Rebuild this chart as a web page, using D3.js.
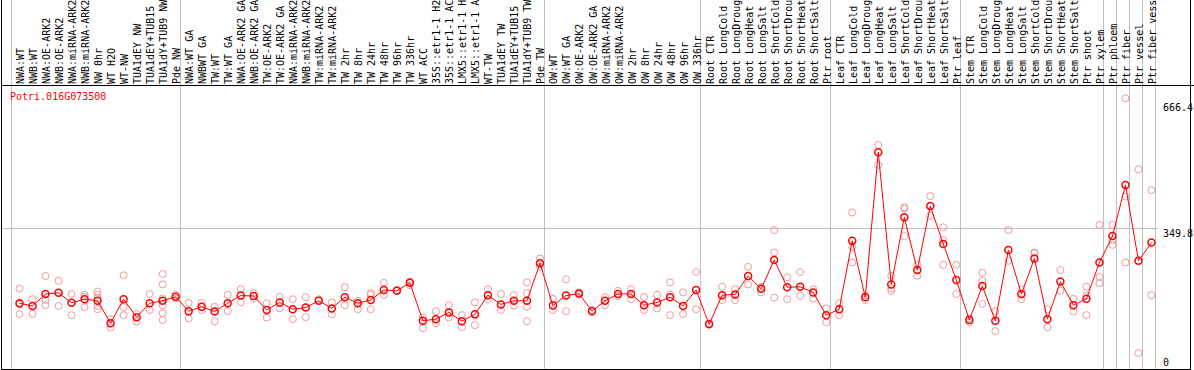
<!DOCTYPE html>
<html lang="en">
<head>
<meta charset="UTF-8">
<title>Potri.016G073500</title>
<style>
  body { margin: 0; background: #fff; }
  svg { display: block; }
  text { font-family: "DejaVu Sans Mono", monospace; font-size: 10px; }
</style>
</head>
<body>
<div id="chart"></div>
<script src="https://d3js.org/d3.v7.min.js"></script>
<script>
const title = "Potri.016G073500";

const labels = [
  "NWA:WT", "NWB:WT", "NWA:OE-ARK2", "NWB:OE-ARK2", "NWA:miRNA-ARK2", "NWB:miRNA-ARK2",
  "NW 0hr", "WT H2O", "WT-NW", "TUA1dEY NW", "TUA1dEY+TUB15 NW", "TUA1dY+TUB9 NW", "Pde NW",
  "NWA:WT GA", "NWBWT GA", "TW:WT", "TW:WT GA", "NWA:OE-ARK2 GA", "NWB:OE-ARK2 GA",
  "TW:OE-ARK2", "TW:OE-ARK2 GA", "NWA:miRNA-ARK2 GA", "NWB:miRNA-ARK2 GA", "TW:miRNA-ARK2",
  "TW:miRNA-ARK2 GA", "TW 2hr", "TW 8hr", "TW 24hr", "TW 48hr", "TW 96hr", "TW 336hr",
  "WT ACC", "35S::etr1-1 H2O", "35S::etr1-1 ACC", "LMX5::etr1-1 H2O", "LMX5::etr1-1 ACC",
  "WT-TW", "TUA1dEY TW", "TUA1dEY+TUB15 TW", "TUA1dY+TUB9 TW", "Pde TW",
  "OW:WT", "OW:WT GA", "OW:OE-ARK2", "OW:OE-ARK2 GA", "OW:miRNA-ARK2", "OW:miRNA-ARK2 GA",
  "OW 2hr", "OW 8hr", "OW 24hr", "OW 48hr", "OW 96hr", "OW 336hr",
  "Root CTR", "Root LongCold", "Root LongDrought", "Root LongHeat", "Root LongSalt",
  "Root ShortCold", "Root ShortDrought", "Root ShortHeat", "Root ShortSalt", "Ptr root",
  "Leaf CTR", "Leaf LongCold", "Leaf LongDrought", "Leaf LongHeat", "Leaf LongSalt",
  "Leaf ShortCold", "Leaf ShortDrought", "Leaf ShortHeat", "Leaf ShortSalt", "Ptr leaf",
  "Stem CTR", "Stem LongCold", "Stem LongDrought", "Stem LongHeat", "Stem LongSalt",
  "Stem ShortCold", "Stem ShortDrought", "Stem ShortHeat", "Stem ShortSalt", "Ptr shoot",
  "Ptr xylem", "Ptr phloem", "Ptr fiber", "Ptr vessel", "Ptr fiber vessel"
];

// number of samples in each block (gray separators between blocks)
const groupSizes = [13, 28, 12, 10, 10, 11, 1, 1, 1, 1];

const means = [
  163, 156, 186, 189, 164, 173, 169, 113, 173, 128, 163, 169, 179,
  143, 154, 142, 163, 182, 181, 146, 165, 148, 152, 169, 150, 178, 163, 171, 196, 194, 214,
  119, 123, 140, 118, 135, 183, 160, 169, 169, 263,
  157, 182, 187, 143, 169, 186, 186, 158, 165, 178, 156, 196,
  110, 183, 185, 231, 199, 271, 203, 204, 190, 133,
  148, 319, 178, 541, 210, 378, 246, 406, 311, 221,
  121, 206, 119, 296, 186, 275, 123, 217, 158, 174, 265,
  331, 459, 269, 315
];

const reps = [
  [200, 160, 136], [173, 136], [231, 171, 158], [219, 156], [186, 133], [184, 179, 153],
  [192, 184, 175, 156, 148], [123, 102], [233, 153, 133], [136, 117], [186, 146],
  [236, 210, 175, 158, 138, 121], [184, 175],
  [164, 125], [164, 146], [154, 118], [184, 143], [198, 165], [188, 175], [163, 127],
  [179, 150], [173, 123], [178, 128], [173], [165, 135], [203, 158], [169, 148],
  [188, 184, 148], [214, 184], [196], [217, 208], [128, 100], [143, 113], [158, 127],
  [133, 103], [165, 108], [198, 173], [186, 146], [183, 157], [215, 188, 154, 118], [275, 254],
  [174, 146], [223, 143], [190, 185], [146], [178, 158], [194, 181], [198, 173], [178, 146],
  [184, 150], [215, 185, 133], [190, 136], [241, 148],
  [113], [204, 171], [198, 171], [254, 210], [204, 190], [346, 290, 177], [228, 173],
  [241, 181], [198, 175], [150, 115],
  [163, 133], [390, 304, 265], [182, 171], [559, 509], [232, 200, 194], [403, 400, 331],
  [259, 232], [431, 382], [353, 321, 259], [259, 186],
  [125, 115], [239, 219, 161], [143, 93], [346, 269], [198, 173], [290, 288], [148, 103],
  [246, 194], [174, 142], [204, 182, 133], [359, 229, 213],
  [359, 321, 309], [676, 430, 265], [498, 38], [446, 183]
];

const yTicks = [0, 349.8, 666.4];

const width = 1194, height = 370;
const headerBottom = 85, plotBottom = 369, rightEdge = 1190;

const svg = d3.select("#chart").append("svg")
  .attr("width", width)
  .attr("height", height);

const x = d3.scaleBand()
  .domain(d3.range(labels.length))
  .range([10.5, 1155.5]);
const px = i => x(i) + 9;

const y = d3.scaleLinear()
  .domain([0, 666.4])
  .range([368.3, 102.1]);

const crisp = v => Math.round(v) + 0.5;

// block separators
const bounds = [0].concat(Array.from(d3.cumsum(groupSizes)));
svg.append("g").selectAll("line")
  .data(bounds)
  .enter().append("line")
  .attr("x1", d => crisp(d < labels.length ? x(d) : x.range()[1] - 1))
  .attr("x2", d => crisp(d < labels.length ? x(d) : x.range()[1] - 1))
  .attr("y1", 0)
  .attr("y2", plotBottom)
  .attr("stroke", "#c0c0c0");

// horizontal grid line at the middle tick
svg.append("line")
  .attr("x1", 1).attr("x2", 1158)
  .attr("y1", crisp(y(349.8) - 0.5)).attr("y2", crisp(y(349.8) - 0.5))
  .attr("stroke", "#c0c0c0");

// frame
svg.append("line").attr("x1", 1.5).attr("x2", 1.5).attr("y1", 0).attr("y2", plotBottom + 1).attr("stroke", "#000");
svg.append("line").attr("x1", rightEdge + 0.5).attr("x2", rightEdge + 0.5).attr("y1", 0).attr("y2", plotBottom + 1).attr("stroke", "#000");
svg.append("line").attr("x1", 1).attr("x2", width).attr("y1", headerBottom + 0.5).attr("y2", headerBottom + 0.5).attr("stroke", "#000");
svg.append("line").attr("x1", 1).attr("x2", rightEdge + 1).attr("y1", plotBottom + 0.5).attr("y2", plotBottom + 0.5).attr("stroke", "#000");

// sample labels
svg.append("g").selectAll("text")
  .data(labels)
  .enter().append("text")
  .attr("transform", (d, i) => `translate(${px(i) + 4.5},84) rotate(-90)`)
  .attr("fill", "#000")
  .text(d => d);

// title
svg.append("text")
  .attr("x", 10)
  .attr("y", 100)
  .attr("fill", "#ff0000")
  .text(title);

// y axis on the right
const axis = svg.append("g")
  .attr("transform", "translate(1160,0)")
  .call(d3.axisRight(y).tickValues(yTicks).tickSize(0).tickPadding(3).tickFormat(d => d));
axis.select(".domain").remove();
axis.selectAll("text")
  .attr("font-family", "DejaVu Sans Mono, monospace")
  .attr("font-size", 10)
  .attr("fill", "#000")
  .attr("y", d => d === 0 ? -6 : 5);

// replicate points
const repPts = [];
reps.forEach((r, i) => r.forEach(v => repPts.push({ i, v })));
svg.append("g").selectAll("circle")
  .data(repPts)
  .enter().append("circle")
  .attr("cx", d => px(d.i))
  .attr("cy", d => y(d.v))
  .attr("r", 3.5)
  .attr("fill", "none")
  .attr("stroke", "#f09a9a")
  .attr("stroke-width", 1);

// mean line
const line = d3.line()
  .x((d, i) => px(i))
  .y(d => y(d));
svg.append("path")
  .datum(means)
  .attr("d", line)
  .attr("fill", "none")
  .attr("stroke", "#ff0000")
  .attr("stroke-width", 1);

// mean points
svg.append("g").selectAll("circle")
  .data(means)
  .enter().append("circle")
  .attr("cx", (d, i) => px(i))
  .attr("cy", d => y(d))
  .attr("r", 3.5)
  .attr("fill", "none")
  .attr("stroke", "#ff0000")
  .attr("stroke-width", 1.5);
</script>
</body>
</html>
